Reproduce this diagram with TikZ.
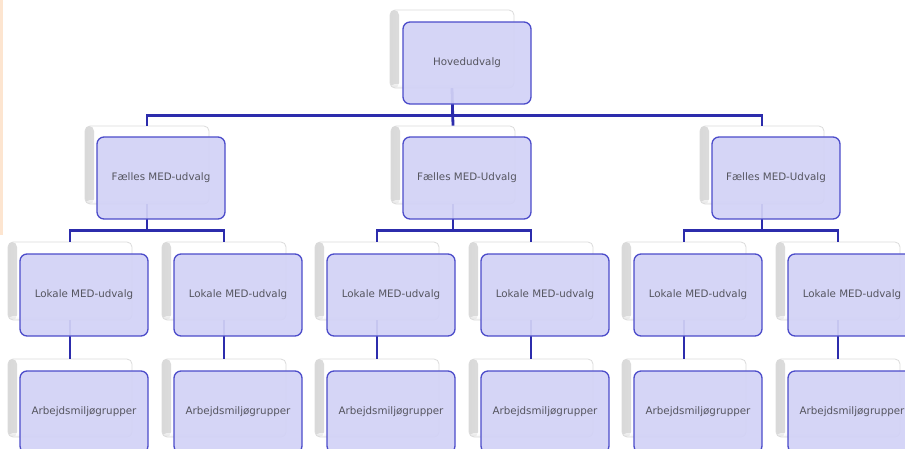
\documentclass[tikz,border=0pt]{standalone}
\usepackage{fontspec}
\setmainfont{DejaVu Sans}
\definecolor{lav}{RGB}{210,210,246}
\definecolor{rim}{RGB}{76,76,202}
\definecolor{wire}{RGB}{44,44,172}
\definecolor{ink}{RGB}{85,85,95}
\definecolor{peach}{RGB}{253,229,208}
\tikzset{
  back/.style={minimum width=124pt, minimum height=78pt, inner sep=0pt, rounded corners=5pt, fill=white, draw=gray!28, line width=0.8pt,
    path picture={
      \shade[left color=gray!30, right color=white] (path picture bounding box.south west) rectangle ([xshift=9pt]path picture bounding box.north west);
      \shade[bottom color=gray!15, top color=white, fill opacity=0.6] (path picture bounding box.south west) rectangle ([yshift=4pt]path picture bounding box.south east);}},
  card/.style={minimum width=128pt, minimum height=82pt, inner sep=0pt, rounded corners=7pt, fill=lav, fill opacity=0.93, text opacity=1,
    draw=rim, line width=1.3pt, text=ink, font=\fontsize{10.3}{12}\selectfont},
  link/.style={draw=wire, line width=2.8pt},
}
\begin{document}
\begin{tikzpicture}[x=1pt,y=-1pt]
    \clip (0,0) rectangle (905,448);
    \fill[peach] (0,0) rectangle (3,235);

    \node[back] (hs) at (452,49) {};
    \node[back] (f1s) at (147,165) {};
    \node[back] (f2s) at (453,165) {};
    \node[back] (f3s) at (762,165) {};
    \node[back] (l1s) at (70,281) {};
    \node[back] (l2s) at (224,281) {};
    \node[back] (l3s) at (377,281) {};
    \node[back] (l4s) at (531,281) {};
    \node[back] (l5s) at (684,281) {};
    \node[back] (l6s) at (838,281) {};
    \node[back] (a1s) at (70,398) {};
    \node[back] (a2s) at (224,398) {};
    \node[back] (a3s) at (377,398) {};
    \node[back] (a4s) at (531,398) {};
    \node[back] (a5s) at (684,398) {};
    \node[back] (a6s) at (838,398) {};

    \draw[link] (hs.south) -- ++(0,27) -| (f1s.north);
    \draw[link] (hs.south) -- ++(0,27) -| (f3s.north);
    \draw[link] (hs.south) -- (f2s.north);
    \draw[link] (f1s.south) -- ++(0,26) -| (l1s.north);
    \draw[link] (f1s.south) -- ++(0,26) -| (l2s.north);
    \draw[link] (f2s.south) -- ++(0,26) -| (l3s.north);
    \draw[link] (f2s.south) -- ++(0,26) -| (l4s.north);
    \draw[link] (f3s.south) -- ++(0,26) -| (l5s.north);
    \draw[link] (f3s.south) -- ++(0,26) -| (l6s.north);
    \draw[link] (l1s.south) -- (a1s.north);
    \draw[link] (l2s.south) -- (a2s.north);
    \draw[link] (l3s.south) -- (a3s.north);
    \draw[link] (l4s.south) -- (a4s.north);
    \draw[link] (l5s.south) -- (a5s.north);
    \draw[link] (l6s.south) -- (a6s.north);

    \node[card] (h) at (467,63) {Hovedudvalg};
    \node[card] (f1) at (161,178) {Fælles MED-udvalg};
    \node[card] (f2) at (467,178) {Fælles MED-Udvalg};
    \node[card] (f3) at (776,178) {Fælles MED-Udvalg};
    \node[card] (l1) at (84,295) {Lokale MED-udvalg};
    \node[card] (l2) at (238,295) {Lokale MED-udvalg};
    \node[card] (l3) at (391,295) {Lokale MED-udvalg};
    \node[card] (l4) at (545,295) {Lokale MED-udvalg};
    \node[card] (l5) at (698,295) {Lokale MED-udvalg};
    \node[card] (l6) at (852,295) {Lokale MED-udvalg};
    \node[card] (a1) at (84,412) {Arbejdsmiljøgrupper};
    \node[card] (a2) at (238,412) {Arbejdsmiljøgrupper};
    \node[card] (a3) at (391,412) {Arbejdsmiljøgrupper};
    \node[card] (a4) at (545,412) {Arbejdsmiljøgrupper};
    \node[card] (a5) at (698,412) {Arbejdsmiljøgrupper};
    \node[card] (a6) at (852,412) {Arbejdsmiljøgrupper};
\end{tikzpicture}
\end{document}
